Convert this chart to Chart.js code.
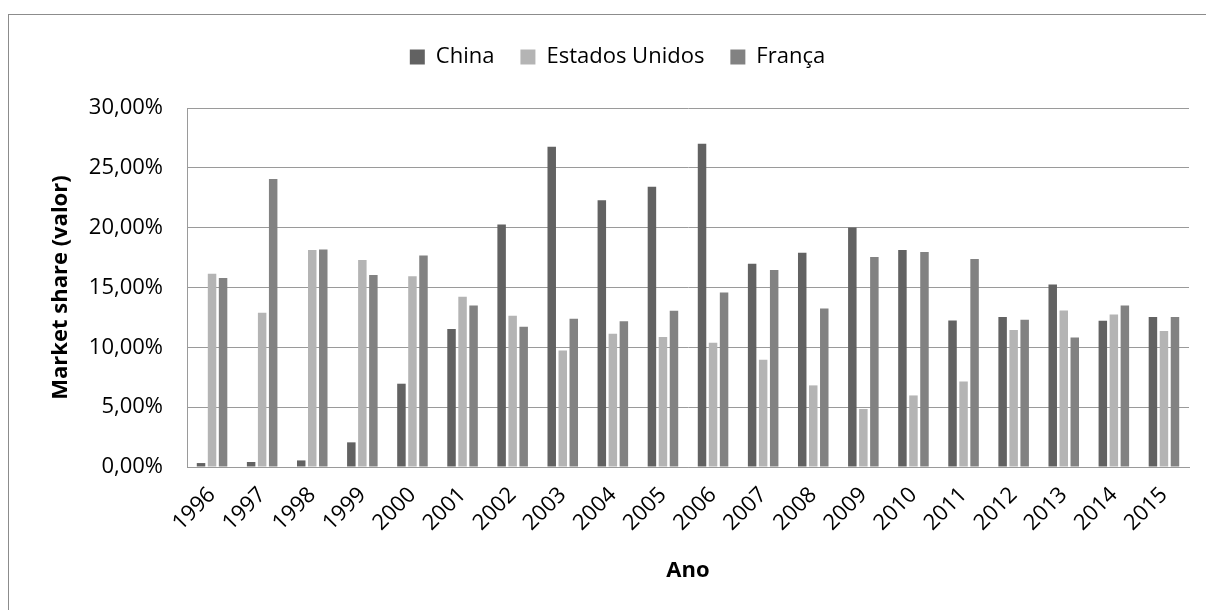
<!DOCTYPE html>
<html>
<head>
<meta charset="utf-8">
<script src="https://cdn.jsdelivr.net/npm/chart.js@4.4.1/dist/chart.umd.min.js"></script>
<style>
  html, body { margin: 0; padding: 0; background: #fff; overflow: hidden; }
  #wrap { position: relative; width: 1206px; height: 610px; }
  #frame { position: absolute; left: 8px; top: 14px; width: 1400px; height: 800px;
           border-left: 1px solid #8c8c8c; border-top: 1px solid #8c8c8c; }
  #chart { position: absolute; left: 0; top: 0; }
</style>
</head>
<body>
<div id="wrap">
  <div id="frame"></div>
  <canvas id="chart" width="1206" height="610"></canvas>
</div>
<script>
// Market share per year (percent)
const years = ['1996','1997','1998','1999','2000','2001','2002','2003','2004','2005',
               '2006','2007','2008','2009','2010','2011','2012','2013','2014','2015'];
const china = [0.33, 0.42, 0.55, 2.06, 6.96, 11.53, 20.27, 26.76, 22.30, 23.42,
               27.01, 16.99, 17.91, 20.02, 18.13, 12.25, 12.53, 15.25, 12.22, 12.53];
const estadosUnidos = [16.15, 12.90, 18.13, 17.30, 15.94, 14.23, 12.64, 9.74, 11.14, 10.86,
                       10.39, 8.96, 6.82, 4.85, 5.98, 7.15, 11.44, 13.08, 12.75, 11.36];
const franca = [15.80, 24.06, 18.18, 16.05, 17.68, 13.50, 11.72, 12.38, 12.17, 13.06,
                14.59, 16.46, 13.25, 17.54, 17.96, 17.38, 12.30, 10.83, 13.50, 12.53];
const seriesNames = ['China', 'Estados Unidos', 'França'];
const yMax = 30;
const yStep = 5;

const FONT = "'Open Sans', 'DejaVu Sans', sans-serif";
const gridColor = '#9a9a9a';

function pct(v) {
  return v.toFixed(2).replace('.', ',') + '%';
}

new Chart(document.getElementById('chart'), {
  type: 'bar',
  data: {
    labels: years,
    datasets: [
      { label: seriesNames[0], data: china, backgroundColor: '#626262' },
      { label: seriesNames[1], data: estadosUnidos, backgroundColor: '#b4b4b4' },
      { label: seriesNames[2], data: franca, backgroundColor: '#828282' }
    ]
  },
  options: {
    responsive: false,
    animation: false,
    layout: { padding: { left: 46, right: 17, top: 20, bottom: 0 } },
    datasets: {
      bar: { categoryPercentage: 0.66, barPercentage: 0.77, borderWidth: 0 }
    },
    plugins: {
      tooltip: { enabled: false },
      legend: {
        position: 'top',
        weight: 1000,
        labels: {
          color: '#000',
          font: { family: FONT, size: 22 },
          boxWidth: 15,
          boxHeight: 15,
          padding: 26
        }
      },
      // blank spacer between the legend and the plot
      title: {
        display: true,
        text: '',
        weight: 500,
        font: { size: 2, lineHeight: 1 },
        padding: { top: 0, bottom: 28 }
      }
    },
    scales: {
      x: {
        grid: { display: false, drawTicks: false },
        border: { display: true, color: gridColor, width: 1 },
        ticks: {
          color: '#000',
          font: { family: FONT, size: 22 },
          minRotation: 45,
          maxRotation: 45,
          padding: 15
        },
        title: {
          display: true,
          text: 'Ano',
          color: '#000',
          font: { family: FONT, size: 22, weight: 'bold' },
          padding: { top: 0, bottom: 26 }
        },
        afterFit: (scale) => { scale.height = 143; }
      },
      y: {
        min: 0,
        max: yMax,
        grid: { color: gridColor, lineWidth: 1, drawTicks: false },
        border: { display: true, color: gridColor, width: 1 },
        ticks: {
          stepSize: yStep,
          color: '#000',
          font: { family: FONT, size: 22 },
          padding: 24,
          callback: (v) => pct(v)
        },
        title: {
          display: true,
          text: 'Market share (valor)',
          color: '#000',
          font: { family: FONT, size: 22, weight: 'bold' },
          padding: { top: 2, bottom: 0 }
        },
        afterFit: (scale) => { scale.width = 141; }
      }
    }
  }
});
</script>
</body>
</html>
